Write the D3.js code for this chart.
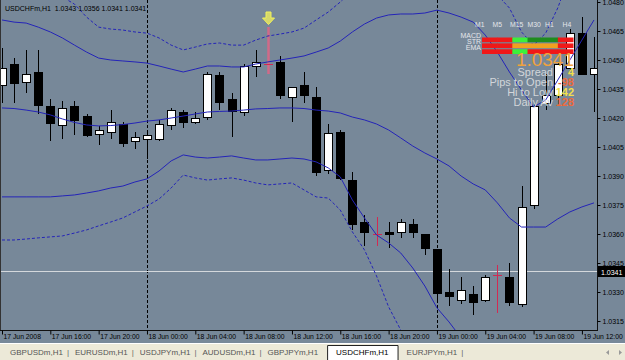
<!DOCTYPE html>
<meta charset="utf-8">
<style>
    body { margin: 0; background: #ece9d8; }
    svg { display: block; font-family: "Liberation Sans", Arial, sans-serif; }
</style>
<svg width="625" height="360"></svg>
<script src="https://d3js.org/d3.v7.min.js"></script>
<script>
    // chart header
    var symbol = "USDCHFm,H1";
    var lastQuote = ["1.0343", "1.0356", "1.0341", "1.0341"];
    var bid = 1.0341;
    var firstBar = new Date(2008, 5, 17, 12);

    // hourly candles
    var open  = [1.0437,1.0448,1.0439,1.0444,1.0426,1.0416,1.0426,1.0421,1.0412,1.0413,
                 1.0417,1.0408,1.0409,1.0409,1.0416,1.0423,1.0418,1.0421,1.0442,1.0430,
                 1.0423,1.0447,1.0448,1.0449,1.0431,1.0437,1.0431,1.0393,1.0413,1.0388,
                 1.0366,1.0360,1.0361,1.0361,1.0365,1.0360,1.0352,1.0330,1.0326,1.0329,
                 1.0326,1.0339,1.0338,1.0324,1.0375,1.0428,1.0432,1.0446,1.0464,1.0443];
    var high  = [1.0456,1.0451,1.0455,1.0455,1.0430,1.0429,1.0429,1.0422,1.0416,1.0424,
                 1.0418,1.0413,1.0413,1.0419,1.0425,1.0424,1.0423,1.0444,1.0444,1.0433,
                 1.0448,1.0455,1.0467,1.0452,1.0436,1.0444,1.0436,1.0417,1.0414,1.0392,
                 1.0370,1.0369,1.0366,1.0368,1.0368,1.0360,1.0352,1.0342,1.0338,1.0333,
                 1.0339,1.0344,1.0345,1.0385,1.0427,1.0443,1.0449,1.0466,1.0472,1.0462];
    var low   = [1.0428,1.0428,1.0433,1.0422,1.0408,1.0409,1.0411,1.0410,1.0406,1.0409,
                 1.0405,1.0404,1.0399,1.0408,1.0414,1.0415,1.0417,1.0419,1.0424,1.0410,
                 1.0421,1.0441,1.0443,1.0430,1.0418,1.0428,1.0390,1.0391,1.0388,1.0362,
                 1.0354,1.0354,1.0353,1.0358,1.0358,1.0349,1.0325,1.0323,1.0324,1.0318,
                 1.0325,1.0319,1.0323,1.0322,1.0373,1.0424,1.0427,1.0445,1.0442,1.0423];
    var close = [1.0446,1.0438,1.0443,1.0427,1.0417,1.0425,1.0419,1.0411,1.0414,1.0418,
                 1.0407,1.0410,1.0411,1.0417,1.0424,1.0418,1.0420,1.0443,1.0428,1.0424,
                 1.0447,1.0449,1.0448,1.0432,1.0436,1.0432,1.0392,1.0412,1.0389,1.0365,
                 1.0361,1.0360,1.0360,1.0366,1.0361,1.0353,1.0329,1.0328,1.0331,1.0325,
                 1.0338,1.0339,1.0325,1.0374,1.0426,1.0432,1.0448,1.0464,1.0443,1.0446];

    // bollinger bands (solid) and wide bands (dotted)
    var bbUpper  = [1.04707,1.04696,1.04691,1.0467,1.04645,1.04614,1.04577,1.04541,1.0451,1.045,
                    1.04495,1.0449,1.04484,1.04469,1.04453,1.04438,1.04453,1.04469,1.04469,1.04464,
                    1.04464,1.04479,1.0449,1.045,1.0451,1.04521,1.04541,1.04562,1.04598,1.04645,
                    1.04686,1.04717,1.04733,1.04738,1.04738,1.04743,1.04758,1.04743,1.04722,1.04696,
                    1.04629,1.04541,1.04438,1.04345,1.04257,1.04293,1.04396,1.045,1.04603,1.04707];
    var bbMiddle = [1.04252,1.04249,1.04241,1.04231,1.04216,1.04195,1.04177,1.04164,1.04159,1.04161,
                    1.04166,1.04174,1.04184,1.0419,1.042,1.0421,1.04221,1.04231,1.04234,1.04236,
                    1.04241,1.04247,1.04249,1.04252,1.04252,1.04249,1.04241,1.04236,1.04226,1.04205,
                    1.0419,1.04169,1.04138,1.04097,1.04055,1.04019,1.03988,1.03952,1.039,1.03859,
                    1.03828,1.03761,1.03683,1.03636,1.03636,1.03636,1.03678,1.03714,1.0374,1.03761];
    var bbLower  = [1.03792,1.03792,1.03792,1.03792,1.03792,1.03797,1.03802,1.03812,1.03823,1.03838,
                    1.03848,1.03869,1.03885,1.03926,1.03978,1.04009,1.03998,1.03993,1.03998,1.04004,
                    1.03993,1.03983,1.03983,1.03988,1.03993,1.03988,1.03973,1.03942,1.03895,1.03776,
                    1.03683,1.03595,1.03554,1.03502,1.03424,1.03331,1.03218,1.03145,1.03063,1.03021,
                    1.03042,1.0299,1.02928,1.02928,1.03016,1.0298,1.02949,1.02928,1.02876,1.02814];
    var bbUpperWide = [1.04913,1.04903,1.04888,1.04872,1.04851,1.04826,1.04789,1.04722,1.0467,1.0466,
                       1.04655,1.04645,1.04639,1.04614,1.04577,1.04552,1.04567,1.04583,1.04588,1.04577,
                       1.04577,1.04603,1.04624,1.04634,1.04645,1.04665,1.04707,1.04748,1.048,1.04862,
                       1.04939,1.05007,1.05043,1.05058,1.05069,1.05069,1.05094,1.05058,1.05017,1.04976,
                       1.04903,1.04836,1.04769,1.04645,1.04577,1.04639,1.04769,1.04939,1.05094,1.0525];
    var bbLowerWide = [1.03569,1.03569,1.03574,1.0358,1.03585,1.0359,1.03605,1.03621,1.03642,1.03662,
                       1.03683,1.03714,1.03745,1.03781,1.03838,1.03905,1.0389,1.03879,1.03885,1.0389,
                       1.03879,1.03864,1.03854,1.03859,1.03864,1.03828,1.03792,1.03786,1.03724,1.03611,
                       1.03518,1.03383,1.03223,1.03104,1.03001,1.02897,1.02794,1.02742,1.0269,1.02639,
                       1.02639,1.02587,1.02535,1.02535,1.02587,1.02561,1.02535,1.02509,1.02484,1.02432];

    var signalBars = [22];
    var priceTicks = [1.0480,1.0465,1.0450,1.0435,1.0420,1.0405,1.0390,1.0375,1.0360,1.0345,1.0330,1.0315];

    // multi-timeframe panel
    var panelCols = ["M1", "M5", "M15", "M30", "H1", "H4"];
    var panelRows = ["MACD", "STR", "EMA"];
    var panelSignals = [
        ["dn", "dn", "up", "upWeak", "upWeak", "dn"],
        ["dn", "dn", "flat", "flat", "flat", "dn"],
        ["dn", "dn", "up", "dn", "dn", "dn"]
    ];
    var panelStats = [["Spread", "4", "#f2df4a"], ["Pips to Open", "-98", "#ec6a3c"],
                      ["Hi to Low", "142", "#f2df4a"], ["Daily Av", "128", "#ec6a3c"]];

    var tabs = ["GBPUSDm,H1", "EURUSDm,H1", "USDJPYm,H1", "AUDUSDm,H1", "GBPJPYm,H1", "USDCHFm,H1", "EURJPYm,H1"];
    var activeTab = "USDCHFm,H1";

    var svg = d3.select("svg");
    var plotRight = 597, plotBottom = 330;

    var times = d3.timeHour.range(firstBar, d3.timeHour.offset(firstBar, open.length));
    var bars = times.map(function(t, i) {
        return { t: t, o: open[i], h: high[i], l: low[i], c: close[i], i: i };
    });

    var x = d3.scaleTime().domain([times[0], times[times.length - 1]]).range([2, 594]);
    var y = d3.scaleLinear().domain([1.0315, 1.0480]).range([321, 2]);

    function px(v) { return Math.round(v) + 0.5; }

    svg.append("rect").attr("width", 625).attr("height", 343).attr("fill", "#778899");
    svg.append("rect").attr("y", 343).attr("width", 625).attr("height", 17).attr("fill", "#ece9d8");

    svg.append("clipPath").attr("id", "plot")
        .append("rect").attr("x", 1).attr("y", 0).attr("width", plotRight - 1).attr("height", plotBottom);

    var plot = svg.append("g").attr("clip-path", "url(#plot)");

    // period separators at midnight
    plot.selectAll(".sep")
        .data(times.filter(function(t) { return t.getHours() === 0; }))
        .enter().append("line")
        .attr("x1", function(d) { return px(x(d)); })
        .attr("x2", function(d) { return px(x(d)); })
        .attr("y1", 0).attr("y2", plotBottom)
        .attr("stroke", "#000").attr("stroke-dasharray", "3,2");

    // bid line
    plot.append("line")
        .attr("x1", 0).attr("x2", plotRight)
        .attr("y1", px(y(bid))).attr("y2", px(y(bid)))
        .attr("stroke", "#d4d8dc");

    // candles
    var candle = plot.selectAll(".candle").data(bars).enter().append("g");

    candle.filter(function(d) { return d.o !== d.c; }).append("line")
        .attr("x1", function(d) { return px(x(d.t)); })
        .attr("x2", function(d) { return px(x(d.t)); })
        .attr("y1", function(d) { return Math.round(y(d.h)); })
        .attr("y2", function(d) { return Math.round(y(d.l)); })
        .attr("stroke", "#000");

    candle.filter(function(d) { return d.c > d.o; }).append("rect")
        .attr("x", function(d) { return Math.round(x(d.t)) - 3.5; })
        .attr("y", function(d) { return px(y(d.c)); })
        .attr("width", 8)
        .attr("height", function(d) { return Math.max(1, Math.round(y(d.o) - y(d.c))); })
        .attr("fill", "#fff").attr("stroke", "#000");

    candle.filter(function(d) { return d.c < d.o; }).append("rect")
        .attr("x", function(d) { return Math.round(x(d.t)) - 4; })
        .attr("y", function(d) { return Math.round(y(d.o)); })
        .attr("width", 9)
        .attr("height", function(d) { return Math.max(2, Math.round(y(d.c) - y(d.o)) + 1); })
        .attr("fill", "#000");

    var doji = candle.filter(function(d) { return d.o === d.c; });
    doji.append("line")
        .attr("x1", function(d) { return px(x(d.t)); })
        .attr("x2", function(d) { return px(x(d.t)); })
        .attr("y1", function(d) { return Math.round(y(d.h)); })
        .attr("y2", function(d) { return Math.round(y(d.l)); })
        .attr("stroke", function(d) { return signalBars.indexOf(d.i) >= 0 ? "#d06a88" : "#d22a52"; })
        .attr("stroke-width", function(d) { return signalBars.indexOf(d.i) >= 0 ? 2.5 : 1; });
    doji.append("line")
        .attr("x1", function(d) { return Math.round(x(d.t)) - 4; })
        .attr("x2", function(d) { return Math.round(x(d.t)) + 5; })
        .attr("y1", function(d) { return px(y(d.o)); })
        .attr("y2", function(d) { return px(y(d.o)); })
        .attr("stroke", "#d22a52");

    // bands
    var line = d3.line().x(function(d, i) { return x(times[i]); }).y(function(d) { return y(d); });
    [bbUpper, bbMiddle, bbLower].forEach(function(s) {
        plot.append("path").attr("d", line(s)).attr("fill", "none").attr("stroke", "#2424b8");
    });
    [bbUpperWide, bbLowerWide].forEach(function(s) {
        plot.append("path").attr("d", line(s)).attr("fill", "none")
            .attr("stroke", "#2424b8").attr("stroke-dasharray", "3,2");
    });

    // signal arrow
    signalBars.forEach(function(i) {
        var cx = Math.round(x(times[i])) + 0.5, top = 12;
        plot.append("path")
            .attr("d", "M" + (cx - 2.5) + "," + top + "h5v6h3.5l-6,6.5l-6,-6.5h3.5z")
            .attr("fill", "#d6d86a").attr("stroke", "#f2f25a").attr("stroke-width", 1);
    });

    // frame
    svg.append("line").attr("x1", 0.5).attr("x2", 0.5).attr("y1", 0).attr("y2", plotBottom).attr("stroke", "#333");
    svg.append("line").attr("x1", plotRight + 0.5).attr("x2", plotRight + 0.5).attr("y1", 0).attr("y2", plotBottom + 1).attr("stroke", "#111");
    svg.append("line").attr("x1", 0).attr("x2", plotRight).attr("y1", plotBottom + 0.5).attr("y2", plotBottom + 0.5).attr("stroke", "#111");

    // price axis
    var yAxis = svg.append("g")
        .attr("transform", "translate(" + (plotRight + 0.5) + ",0)")
        .call(d3.axisRight(y).tickValues(priceTicks).tickFormat(d3.format(".4f")).tickSize(3).tickPadding(2));
    yAxis.select(".domain").remove();
    yAxis.selectAll("line").attr("stroke", "#000");
    yAxis.selectAll("text").attr("fill", "#000").attr("font-size", 7).attr("font-family", null);

    svg.append("rect").attr("x", plotRight + 1).attr("y", Math.round(y(bid)) - 5)
        .attr("width", 27).attr("height", 11).attr("fill", "#000");
    svg.append("text").attr("x", plotRight + 4).attr("y", Math.round(y(bid)) + 3.5)
        .attr("fill", "#fff").attr("font-size", 7).text(d3.format(".4f")(bid));

    // time axis
    var timeTicks = times.filter(function(t, i) { return i % 4 === 0; });
    var xAxis = svg.append("g")
        .attr("transform", "translate(0," + (plotBottom + 0.5) + ")")
        .call(d3.axisBottom(x).tickValues(timeTicks).tickSize(4).tickFormat(function(d, i) {
            return i === 0 ? d3.timeFormat("%d %b %Y")(d) : d3.timeFormat("%d %b %H:%M")(d);
        }));
    xAxis.select(".domain").remove();
    xAxis.selectAll("line").attr("stroke", "#000");
    xAxis.selectAll("text").attr("fill", "#000").attr("font-size", 6.8).attr("font-family", null)
        .attr("text-anchor", "start").attr("x", 1).attr("y", 4).attr("dy", "0.71em");

    // header
    svg.append("text").attr("x", 5).attr("y", 11).attr("font-size", 7).attr("fill", "#000")
        .attr("xml:space", "preserve")
        .text(symbol + "  " + lastQuote.join(" "));

    // panel
    var panel = svg.append("g");
    var cellX = d3.scaleBand().domain(panelCols).range([482, 573]);
    var headX = d3.scaleBand().domain(panelCols).range([475, 580]);
    var rowY = d3.scaleBand().domain(panelRows).range([37.5, 54]).paddingInner(0.2);
    var signalColor = { dn: "#f01818", up: "#3cf03c", upWeak: "#1e8c1e", flat: "#f0a020" };

    panel.selectAll(".hdr").data(panelCols).enter().append("text")
        .attr("x", function(d) { return headX(d); }).attr("y", 27)
        .attr("font-size", 6.8).attr("fill", "#e4e6ea").text(function(d) { return d; });
    panel.selectAll(".rl").data(panelRows).enter().append("text")
        .attr("x", 481).attr("y", function(d) { return rowY(d) + 0.5; })
        .attr("text-anchor", "end").attr("font-size", 7).attr("fill", "#e4e6ea")
        .text(function(d) { return d; });
    panelRows.forEach(function(r, ri) {
        panel.selectAll(".c" + ri).data(panelSignals[ri]).enter().append("rect")
            .attr("x", function(d, ci) { return cellX(panelCols[ci]); })
            .attr("y", rowY(r))
            .attr("width", cellX.bandwidth() + 0.5)
            .attr("height", rowY.bandwidth())
            .attr("fill", function(d) { return signalColor[d]; });
    });

    panel.append("text").attr("x", 574).attr("y", 66).attr("text-anchor", "end")
        .attr("font-size", 19).attr("fill", "#f0a23c").text(d3.format(".4f")(bid));
    panelStats.forEach(function(s, i) {
        var by = 76 + i * 10;
        panel.append("text").attr("x", 553).attr("y", by).attr("text-anchor", "end")
            .attr("font-size", 11).attr("fill", "#d2d6da").text(s[0]);
        panel.append("text").attr("x", 574).attr("y", by).attr("text-anchor", "end")
            .attr("font-size", 11).attr("font-weight", "bold").attr("fill", s[2]).text(s[1]);
    });

    // tab bar
    svg.append("line").attr("x1", 0).attr("x2", 625).attr("y1", 343.5).attr("y2", 343.5).attr("stroke", "#fff");
    var tx = 10;
    tabs.forEach(function(name, i) {
        var g = svg.append("g");
        var t = g.append("text").attr("x", tx).attr("y", 355).attr("font-size", 8)
            .attr("fill", name === activeTab ? "#000" : "#555").text(name);
        var w = t.node().getComputedTextLength();
        if (name === activeTab) {
            g.insert("path", "text")
                .attr("d", "M" + (tx - 8.5) + ",360V345.5H" + (tx + w + 9.5) + "V360")
                .attr("fill", "#fff").attr("stroke", "#222");
        }
        var next = tabs[i + 1];
        if (name !== activeTab && next !== activeTab) {
            g.append("text").attr("x", tx + w + 4).attr("y", 355).attr("font-size", 8)
                .attr("fill", "#666").text("|");
            tx += w + 12;
        } else {
            tx += w + 18;
        }
    });
    svg.append("path").attr("d", "M606,352.5l3,-2.5v5z").attr("fill", "#999");
    svg.append("path").attr("d", "M622,352.5l-3,-2.5v5z").attr("fill", "#999");
</script>
